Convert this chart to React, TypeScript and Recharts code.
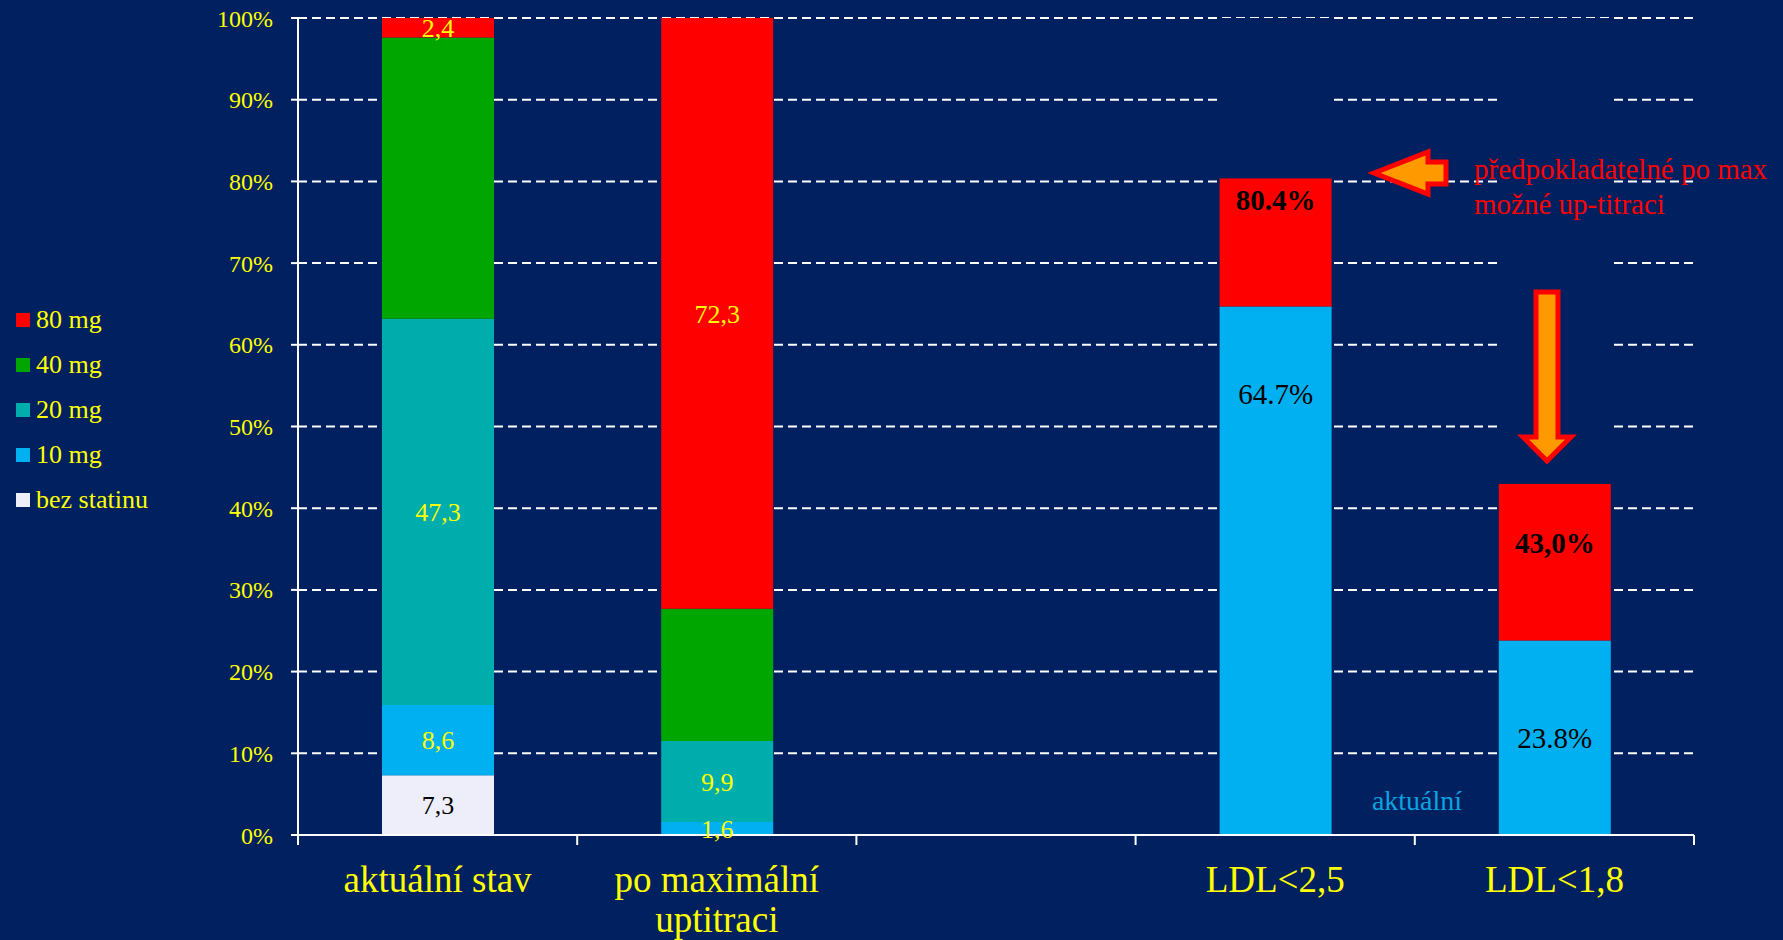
import { BarChart, Bar, XAxis, YAxis, CartesianGrid, Legend, LabelList } from 'recharts'

const categories = ['aktuální stav', 'po maximální\nuptitraci', '', 'LDL<2,5', 'LDL<1,8']

// dávka statinu (%)
const bezStatinu = [7.3, null, null, null, null]
const mg10 = [8.6, 1.6, null, null, null]
const mg20 = [47.3, 9.9, null, null, null]
const mg40 = [34.4, 16.2, null, null, null]
const mg80 = [2.4, 72.3, null, null, null]

// dosažení cílového LDL (%)
const ldlAktualni = [null, null, null, 64.7, 23.8]
const ldlPoTitraci = [null, null, null, 80.4, 43.0]
const ldlAktualniLabels = ['', '', '', '64.7%', '23.8%']
const ldlPoTitraciLabels = ['', '', '', '80.4%', '43,0%']

const legendOrder = ['80 mg', '40 mg', '20 mg', '10 mg', 'bez statinu']
const yTicks = [0, 10, 20, 30, 40, 50, 60, 70, 80, 90, 100]

const data = categories.map((name, i) => ({
  name,
  bez: bezStatinu[i],
  m10: mg10[i],
  m20: mg20[i],
  m40: mg40[i],
  m80: mg80[i],
  ldlAkt: ldlAktualni[i],
  ldlUp: ldlPoTitraci[i] == null ? null : +(ldlPoTitraci[i]! - ldlAktualni[i]!).toFixed(1),
  ldlRest: ldlPoTitraci[i] == null ? null : +(100 - ldlPoTitraci[i]!).toFixed(1),
  ldlAktText: ldlAktualniLabels[i],
  ldlUpText: ldlPoTitraciLabels[i],
}))

const BG = '#002060'
const YELLOW = '#FFFF00'
const FONT = '"Liberation Serif", "Times New Roman", serif'

const W = 1783
const H = 940
const PLOT_LEFT = 298
const PLOT_RIGHT = 1694
const PLOT_BOTTOM = 835
const BAND = (PLOT_RIGHT - PLOT_LEFT) / categories.length

const fmtComma = (v: any) => (v == null ? '' : String(v).replace('.', ','))

function CategoryTick(props: any) {
  const { x, payload, index } = props
  const lines = String(payload.value).split('\n')
  const left = x - BAND / 2
  const right = x + BAND / 2
  return (
    <g>
      <line x1={left} x2={left} y1={PLOT_BOTTOM} y2={PLOT_BOTTOM + 10} stroke="#fff" strokeWidth={2} />
      {index === categories.length - 1 && (
        <line x1={right} x2={right} y1={PLOT_BOTTOM} y2={PLOT_BOTTOM + 10} stroke="#fff" strokeWidth={2} />
      )}
      <text x={x} y={PLOT_BOTTOM + 57} textAnchor="middle" fill={YELLOW} fontSize={37} fontFamily={FONT}>
        {lines.map((l, i) => (
          <tspan key={i} x={x} dy={i === 0 ? 0 : 40}>{l}</tspan>
        ))}
      </text>
    </g>
  )
}

// label inside a segment, measured down from its top edge
function topLabel(labels: string[], drop: number[], bold: boolean) {
  return (props: any) => {
    const vb = props.viewBox || props
    const text = props.value
    if (!text) return null
    const i = labels.indexOf(text)
    return (
      <text
        x={vb.x + vb.width / 2}
        y={vb.y + (drop[i] ?? 0)}
        textAnchor="middle"
        dominantBaseline="central"
        fill="#000"
        fontSize={29}
        fontWeight={bold ? 'bold' : 'normal'}
        fontFamily={FONT}
      >
        {text}
      </text>
    )
  }
}

function LegendBox({ payload }: any) {
  const items = (payload || [])
    .filter((p: any) => legendOrder.includes(p.value))
    .sort((a: any, b: any) => legendOrder.indexOf(a.value) - legendOrder.indexOf(b.value))
  return (
    <div style={{ fontFamily: FONT }}>
      {items.map((p: any) => (
        <div key={p.value} style={{ display: 'flex', alignItems: 'center', height: 45 }}>
          <span style={{ width: 14, height: 14, background: p.color, display: 'inline-block' }} />
          <span style={{ marginLeft: 6, color: YELLOW, fontSize: 26, whiteSpace: 'nowrap' }}>{p.value}</span>
        </div>
      ))}
    </div>
  )
}

function Annotations() {
  return (
    <svg width={W} height={H} style={{ position: 'absolute', left: 0, top: 0, pointerEvents: 'none' }}>
      <polygon
        points="1374,173 1428,152 1428,162 1446,162 1446,184 1428,184 1428,194"
        fill="#FF9900"
        stroke="#FF0000"
        strokeWidth={5}
      />
      <text x={1474} y={179} fill="#FF0000" fontSize={29} fontFamily={FONT}>předpokladatelné po max</text>
      <text x={1474} y={214} fill="#FF0000" fontSize={29} fontFamily={FONT}>možné up-titraci</text>
      <polygon
        points="1536,292 1558,292 1558,437 1571,437 1547,461 1523,437 1536,437"
        fill="#FF9900"
        stroke="#FF0000"
        strokeWidth={5}
      />
      <text x={1417} y={810} textAnchor="middle" fill="#0BA3DF" fontSize={28} fontFamily={FONT}>aktuální</text>
    </svg>
  )
}

export default function App() {
  return (
    <div style={{ position: 'fixed', left: 0, top: 0, width: W, height: H, background: BG, fontFamily: FONT }}>
      <BarChart
        width={W}
        height={H}
        data={data}
        barSize={112}
        margin={{ top: 18, right: W - PLOT_RIGHT, bottom: 5, left: PLOT_LEFT - 80 - 140 }}
      >
        <CartesianGrid vertical={false} stroke="#FFFFFF" strokeDasharray="9 5" strokeWidth={2} />
        <XAxis
          dataKey="name"
          interval={0}
          height={100}
          tickLine={false}
          axisLine={{ stroke: '#FFFFFF', strokeWidth: 2 }}
          tick={<CategoryTick />}
        />
        <YAxis
          width={80}
          domain={[0, 100]}
          ticks={yTicks}
          tickFormatter={(v) => `${v}%`}
          axisLine={{ stroke: '#FFFFFF', strokeWidth: 2 }}
          tickLine={{ stroke: '#FFFFFF', strokeWidth: 2 }}
          tickSize={7}
          tickMargin={18}
          tick={{ fill: YELLOW, fontSize: 24, fontFamily: FONT }}
        />
        <Legend
          layout="vertical"
          align="left"
          verticalAlign="middle"
          width={140}
          wrapperStyle={{ left: 16, top: 297, width: 140 }}
          content={<LegendBox />}
        />
        <Bar dataKey="bez" name="bez statinu" stackId="a" fill="#EEEEFA" isAnimationActive={false}>
          <LabelList dataKey="bez" position="center" formatter={fmtComma} fill="#000" fontSize={26} fontFamily={FONT} />
        </Bar>
        <Bar dataKey="m10" name="10 mg" stackId="a" fill="#00B0F0" isAnimationActive={false}>
          <LabelList dataKey="m10" position="center" formatter={fmtComma} fill={YELLOW} fontSize={26} fontFamily={FONT} />
        </Bar>
        <Bar dataKey="m20" name="20 mg" stackId="a" fill="#00ADAD" isAnimationActive={false}>
          <LabelList dataKey="m20" position="center" formatter={fmtComma} fill={YELLOW} fontSize={26} fontFamily={FONT} />
        </Bar>
        <Bar dataKey="m40" name="40 mg" stackId="a" fill="#00A600" isAnimationActive={false} />
        <Bar dataKey="m80" name="80 mg" stackId="a" fill="#FF0000" isAnimationActive={false}>
          <LabelList dataKey="m80" position="center" formatter={fmtComma} fill={YELLOW} fontSize={26} fontFamily={FONT} />
        </Bar>
        <Bar dataKey="ldlAkt" name="aktuální" stackId="a" fill="#00B0F0" legendType="none" isAnimationActive={false}>
          <LabelList dataKey="ldlAktText" content={topLabel(ldlAktualniLabels, [0, 0, 0, 88, 97], false)} />
        </Bar>
        <Bar dataKey="ldlUp" name="po up-titraci" stackId="a" fill="#FF0000" legendType="none" isAnimationActive={false}>
          <LabelList dataKey="ldlUpText" content={topLabel(ldlPoTitraciLabels, [0, 0, 0, 22, 59], true)} />
        </Bar>
        <Bar dataKey="ldlRest" name="zbytek" stackId="a" fill={BG} legendType="none" isAnimationActive={false} />
      </BarChart>
      <Annotations />
    </div>
  )
}
